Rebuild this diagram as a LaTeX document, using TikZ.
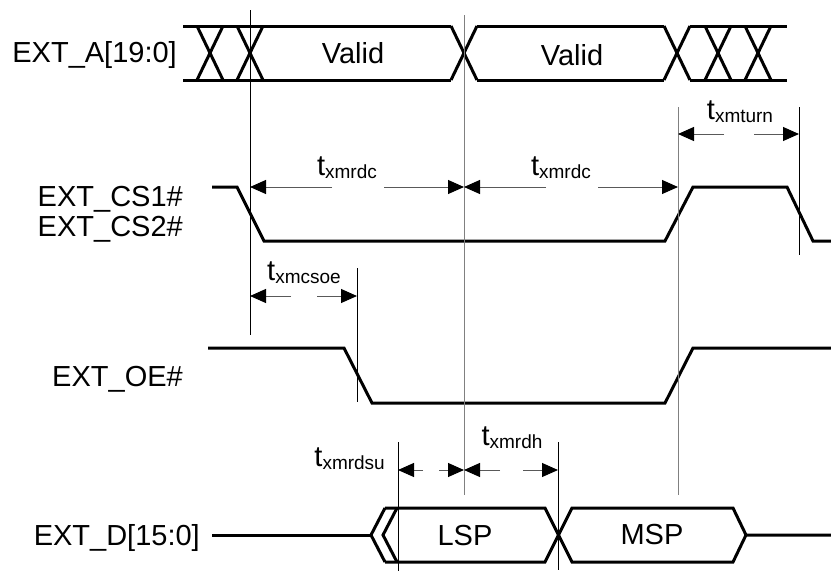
\documentclass[tikz,border=0pt]{standalone}
\usepackage{fontspec}
\setmainfont{Liberation Sans}
\usetikzlibrary{arrows.meta}
\newcommand{\tname}[1]{t\raisebox{-3pt}{\fontsize{19}{19}\selectfont #1}}

\begin{document}
\begin{tikzpicture}[x=1pt,y=-1pt]
\tikzset{wave/.style={line width=3pt},
  cursor/.style={line width=1pt},
  gcursor/.style={line width=1pt,draw=gray},
  dim/.style={line width=1pt,draw=gray!70!black},
  sig/.style={font=\fontsize{29}{34}\selectfont,inner sep=0pt},
  tlab/.style={font=\fontsize{29}{34}\selectfont,inner sep=0pt,anchor=base},
  >={Triangle[length=16pt,width=14pt,color=black,fill=black]}}
\useasboundingbox (0,0) rectangle (831,571);

\node[sig,anchor=base east] (extA) at (177,62) {EXT\_A[19:0]};
\node[sig,anchor=base east] (cs1) at (183,206) {EXT\_CS1\#};
\node[sig,anchor=base east] (cs2) at (183,236) {EXT\_CS2\#};
\node[sig,anchor=base east] (oe) at (183,386) {EXT\_OE\#};
\node[sig,anchor=base east] (extD) at (200,545) {EXT\_D[15:0]};

% address bus
\draw[wave] (183,26) -- (451,26) (477,26) -- (664,26) (690,26) -- (787,26);
\draw[wave] (183,80) -- (451,80) (477,80) -- (664,80) (690,80) -- (787,80);
\foreach \c in {210,250,464,677,718,758}
  \draw[wave] (\c-13,26) -- (\c+13,80) (\c-13,80) -- (\c+13,26);
\node[sig,anchor=base] (valid1) at (353,63) {Valid};
\node[sig,anchor=base] (valid2) at (572,65) {Valid};

% strobes
\draw[wave] (212,187) -- (237,187) -- (264,241) -- (665,241) -- (693,187)
  -- (787,187) -- (813,241) -- (831,241);
\draw[wave] (208,348) -- (344,348) -- (372,403) -- (665,403) -- (693,348) -- (831,348);

% data bus
\draw[wave] (212,535) -- (371,535);
\draw[wave] (385,508) -- (371,535) -- (385,562) (397,508) -- (383,535) -- (397,562);
\draw[wave] (385,508) -- (545,508) -- (572,562) -- (733,562) -- (746,535) -- (831,535);
\draw[wave] (385,562) -- (545,562) -- (572,508) -- (733,508) -- (746,535);
\node[sig,anchor=base] (lsp) at (465,545) {LSP};
\node[sig,anchor=base] (msp) at (652,544) {MSP};

\draw[cursor] (250,10) -- (250,335);
\draw[gcursor] (464,15) -- (464,495);
\draw[gcursor] (678,107) -- (678,495);
\draw[cursor] (799,107) -- (799,255);
\draw[cursor] (357,268) -- (357,402);
\draw[cursor] (398,442) -- (398,571);
\draw[cursor] (558,442) -- (558,570);

\foreach \a/\b/\c/\d/\y in {250/332/384/464/187, 464/546/598/678/187,
    678/724/754/799/134, 250/291/317/357/296, 398/423/439/464/470,
    464/500/523/558/470}
{
  \draw[dim,->] (\b,\y) -- (\a,\y);
  \draw[dim,->] (\c,\y) -- (\d,\y);
}

\node[tlab] (rdc1) at (347,175) {\tname{xmrdc}};
\node[tlab] (rdc2) at (561,175) {\tname{xmrdc}};
\node[tlab] (turn) at (740,119) {\tname{xmturn}};
\node[tlab] (csoe) at (304,280) {\tname{xmcsoe}};
\node[tlab,anchor=base east] (rdsu) at (385,466) {\tname{xmrdsu}};
\node[tlab] (rdh) at (512,445) {\tname{xmrdh}};
\end{tikzpicture}
\end{document}
